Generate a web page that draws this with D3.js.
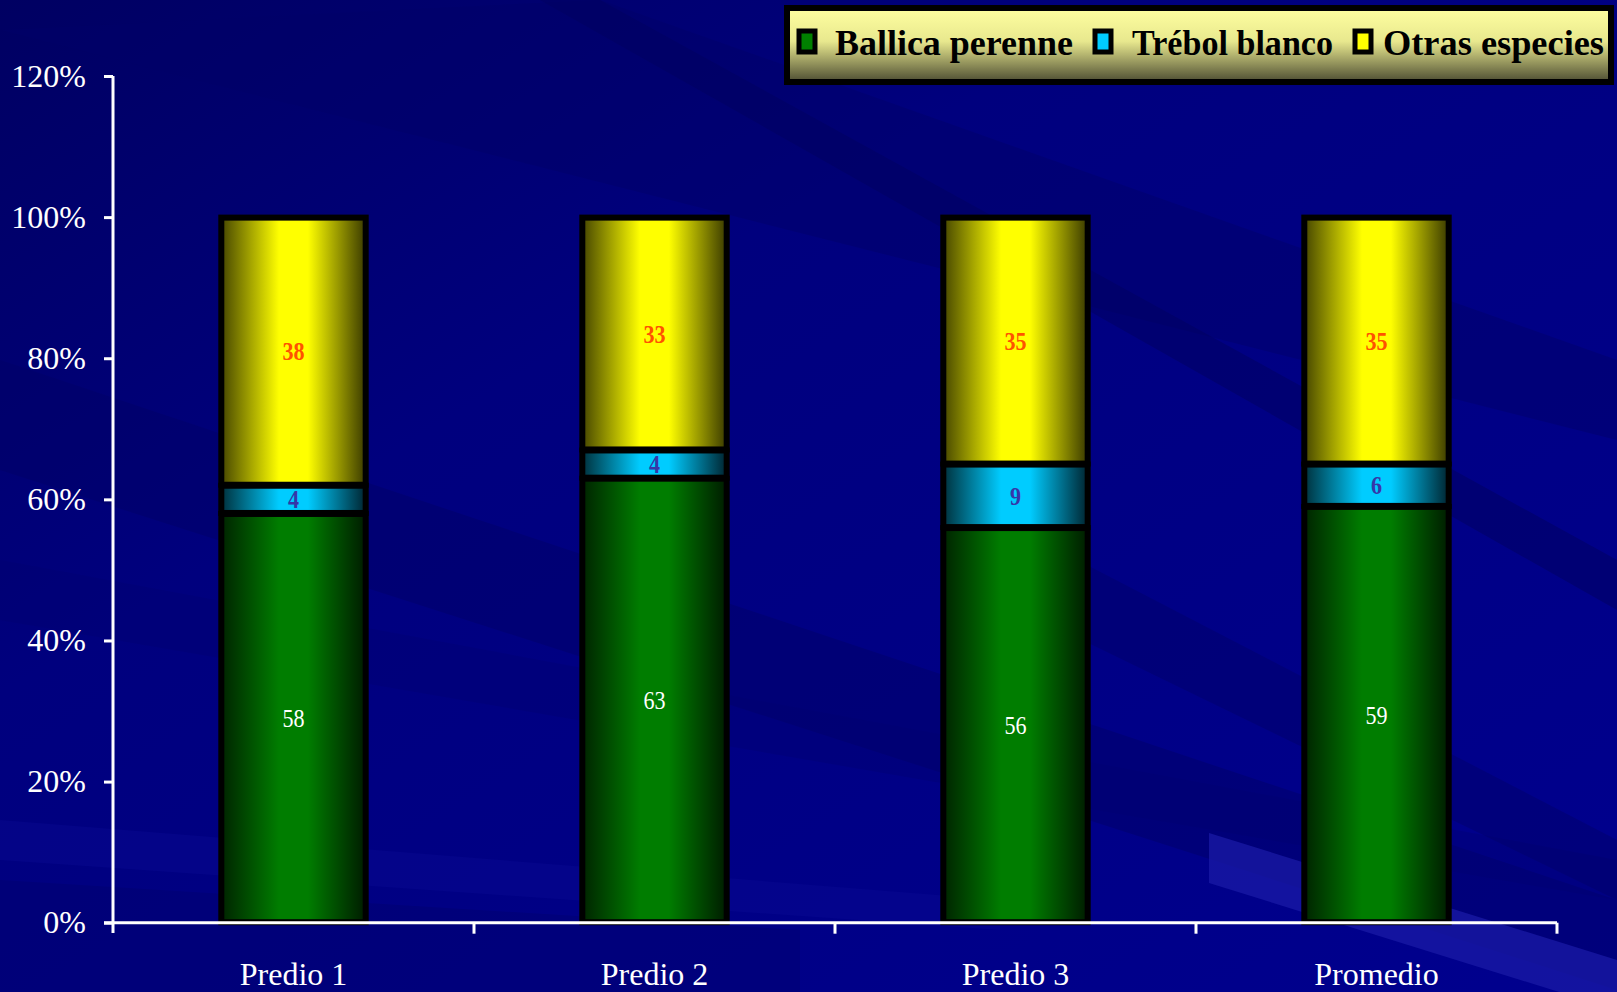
<!DOCTYPE html>
<html>
<head>
<meta charset="utf-8">
<script src="https://cdn.jsdelivr.net/npm/d3@7"></script>
<style>
  html, body { margin: 0; padding: 0; background: #000080; }
  svg { display: block; }
</style>
</head>
<body>
<svg width="1617" height="992"></svg>
<script>
// data
const categories = ['Predio 1', 'Predio 2', 'Predio 3', 'Promedio'];
const ballica = [58, 63, 56, 59];
const trebol = [4, 4, 9, 6];
const otras = [38, 33, 35, 35];
const seriesNames = ['Ballica perenne', 'Trébol blanco', 'Otras especies'];
const yTicks = [0, 0.2, 0.4, 0.6, 0.8, 1.0, 1.2];

const keys = ['ballica', 'trebol', 'otras'];
const rows = categories.map((c, i) => ({
  cat: c, ballica: ballica[i] / 100, trebol: trebol[i] / 100, otras: otras[i] / 100
}));
const labels = { ballica: ballica, trebol: trebol, otras: otras };

const svg = d3.select('svg');
const W = 1617, H = 992;
const serif = '"Liberation Serif", "Times New Roman", serif';

// ---- background with soft diagonal streaks
const defs = svg.append('defs');
const bg = defs.append('linearGradient').attr('id', 'bg')
  .attr('x1', '0').attr('y1', '0').attr('x2', '1').attr('y2', '1');
bg.append('stop').attr('offset', '0%').attr('stop-color', '#000062');
bg.append('stop').attr('offset', '35%').attr('stop-color', '#00007e');
bg.append('stop').attr('offset', '100%').attr('stop-color', '#00008e');
svg.append('rect').attr('width', W).attr('height', H).attr('fill', 'url(#bg)');

const streaks = [
  { pts: [[0, 30], [600, 0], [1617, 360], [1617, 440]], c: '#000068', o: 0.45 },
  { pts: [[0, 360], [0, 470], [1617, 990], [1617, 900]], c: '#000066', o: 0.45 },
  { pts: [[540, 0], [600, 0], [1617, 560], [1617, 610]], c: '#000060', o: 0.5 },
  { pts: [[0, 560], [0, 620], [1617, 900], [1617, 860]], c: '#000070', o: 0.35 },
  { pts: [[0, 820], [0, 860], [1000, 930], [1000, 900]], c: '#0c0c96', o: 0.35 },
  { pts: [[1000, 520], [1000, 600], [1617, 900], [1617, 840]], c: '#000068', o: 0.45 },
  { pts: [[1209, 833], [1617, 960], [1617, 1010], [1209, 883]], c: '#1a1aa6', o: 0.75 },
  { pts: [[0, 880], [0, 992], [800, 992], [800, 930]], c: '#00006c', o: 0.4 }
];
svg.append('g').selectAll('polygon').data(streaks).join('polygon')
  .attr('points', d => d.pts.map(p => p.join(',')).join(' '))
  .attr('fill', d => d.c).attr('opacity', d => d.o);

// ---- gradients for the bars
function hGrad(id, edgeL, mid, edgeR) {
  const g = defs.append('linearGradient').attr('id', id)
    .attr('x1', '0').attr('y1', '0').attr('x2', '1').attr('y2', '0');
  g.append('stop').attr('offset', '0%').attr('stop-color', edgeL);
  g.append('stop').attr('offset', '40%').attr('stop-color', mid);
  g.append('stop').attr('offset', '60%').attr('stop-color', mid);
  g.append('stop').attr('offset', '100%').attr('stop-color', edgeR);
}
hGrad('g-ballica', '#002400', '#007d00', '#001c00');
hGrad('g-trebol', '#00303c', '#00ccff', '#002430');
hGrad('g-otras', '#464600', '#ffff00', '#3a3a00');

const lg = defs.append('linearGradient').attr('id', 'g-legend')
  .attr('x1', '0').attr('y1', '0').attr('x2', '0').attr('y2', '1');
lg.append('stop').attr('offset', '0%').attr('stop-color', '#ffffa0');
lg.append('stop').attr('offset', '45%').attr('stop-color', '#e8e88e');
lg.append('stop').attr('offset', '100%').attr('stop-color', '#4c4c32');

// ---- scales
const x = d3.scaleBand().domain(categories).range([113, 1557]).padding(0);
const y = d3.scaleLinear().domain([0, 1.2]).range([922.7, 76]);
const barW = x.bandwidth() * 0.40;

const stacked = d3.stack().keys(keys)(rows);

const labelStyle = {
  ballica: { fill: '#ffffff', weight: 'normal' },
  trebol: { fill: '#3636a8', weight: 'bold' },
  otras: { fill: '#ff5200', weight: 'bold' }
};

// ---- bars
const layers = svg.append('g').selectAll('g').data(stacked).join('g');
layers.selectAll('rect').data(d => d.map(v => ({ v, key: d.key }))).join('rect')
  .attr('x', d => x(d.v.data.cat) + (x.bandwidth() - barW) / 2)
  .attr('y', d => y(d.v[1]) + 0.5)
  .attr('width', barW)
  .attr('height', d => y(d.v[0]) - y(d.v[1]) - 1)
  .attr('fill', d => 'url(#g-' + d.key + ')')
  .attr('stroke', '#000')
  .attr('stroke-width', 6);

layers.selectAll('text').data(d => d.map((v, i) => ({ v, key: d.key, i }))).join('text')
  .attr('transform', d => 'translate(' + (x(d.v.data.cat) + x.bandwidth() / 2) + ',' +
    (y((d.v[0] + d.v[1]) / 2) + 9) + ') scale(0.85,1)')
  .attr('text-anchor', 'middle')
  .attr('font-family', serif)
  .attr('font-size', 26)
  .attr('font-weight', d => labelStyle[d.key].weight)
  .attr('fill', d => labelStyle[d.key].fill)
  .text(d => labels[d.key][d.i]);

// ---- axes
const yAxis = svg.append('g').attr('transform', 'translate(113,0)')
  .call(d3.axisLeft(y).tickValues(yTicks).tickFormat(d3.format('.0%')).tickSize(9).tickPadding(18));
yAxis.select('.domain').attr('stroke', '#fff').attr('stroke-width', 3).attr('d', 'M0,76V933');
yAxis.selectAll('.tick line').attr('stroke', '#fff').attr('stroke-width', 3);
yAxis.selectAll('.tick text')
  .attr('fill', '#fff')
  .attr('font-family', serif)
  .attr('font-size', 32);

const xg = svg.append('g');
xg.append('line').attr('x1', 104).attr('x2', 1557).attr('y1', y(0)).attr('y2', y(0))
  .attr('stroke', '#fff').attr('stroke-width', 3);
xg.selectAll('line.tk').data(categories).join('line').attr('class', 'tk')
  .attr('x1', d => x(d) + x.bandwidth()).attr('x2', d => x(d) + x.bandwidth())
  .attr('y1', y(0)).attr('y2', y(0) + 11)
  .attr('stroke', '#fff').attr('stroke-width', 3);
xg.selectAll('text').data(categories).join('text')
  .attr('x', d => x(d) + x.bandwidth() / 2)
  .attr('y', 985)
  .attr('text-anchor', 'middle')
  .attr('fill', '#fff')
  .attr('font-family', serif)
  .attr('font-size', 32)
  .text(d => d);

// ---- legend
const legend = svg.append('g');
legend.append('rect').attr('x', 787).attr('y', 8).attr('width', 824).attr('height', 74)
  .attr('fill', 'url(#g-legend)').attr('stroke', '#000').attr('stroke-width', 6);
const legendItems = [
  { name: seriesNames[0], key: 'ballica', mx: 799, tx: 835, w: 238 },
  { name: seriesNames[1], key: 'trebol', mx: 1095, tx: 1132, w: 201 },
  { name: seriesNames[2], key: 'otras', mx: 1355, tx: 1383, w: 221 }
];
const swatch = { ballica: '#008000', trebol: '#00ccff', otras: '#ffff00' };
legend.selectAll('rect.sw').data(legendItems).join('rect').attr('class', 'sw')
  .attr('x', d => d.mx).attr('y', 31).attr('width', 16).attr('height', 21)
  .attr('fill', d => swatch[d.key]).attr('stroke', '#000').attr('stroke-width', 5);
legend.selectAll('text').data(legendItems).join('text')
  .attr('x', d => d.tx).attr('y', 55)
  .attr('font-family', serif)
  .attr('font-weight', 'bold')
  .attr('font-size', 36)
  .attr('textLength', d => d.w)
  .attr('lengthAdjust', 'spacingAndGlyphs')
  .attr('fill', '#000')
  .text(d => d.name);
</script>
</body>
</html>
